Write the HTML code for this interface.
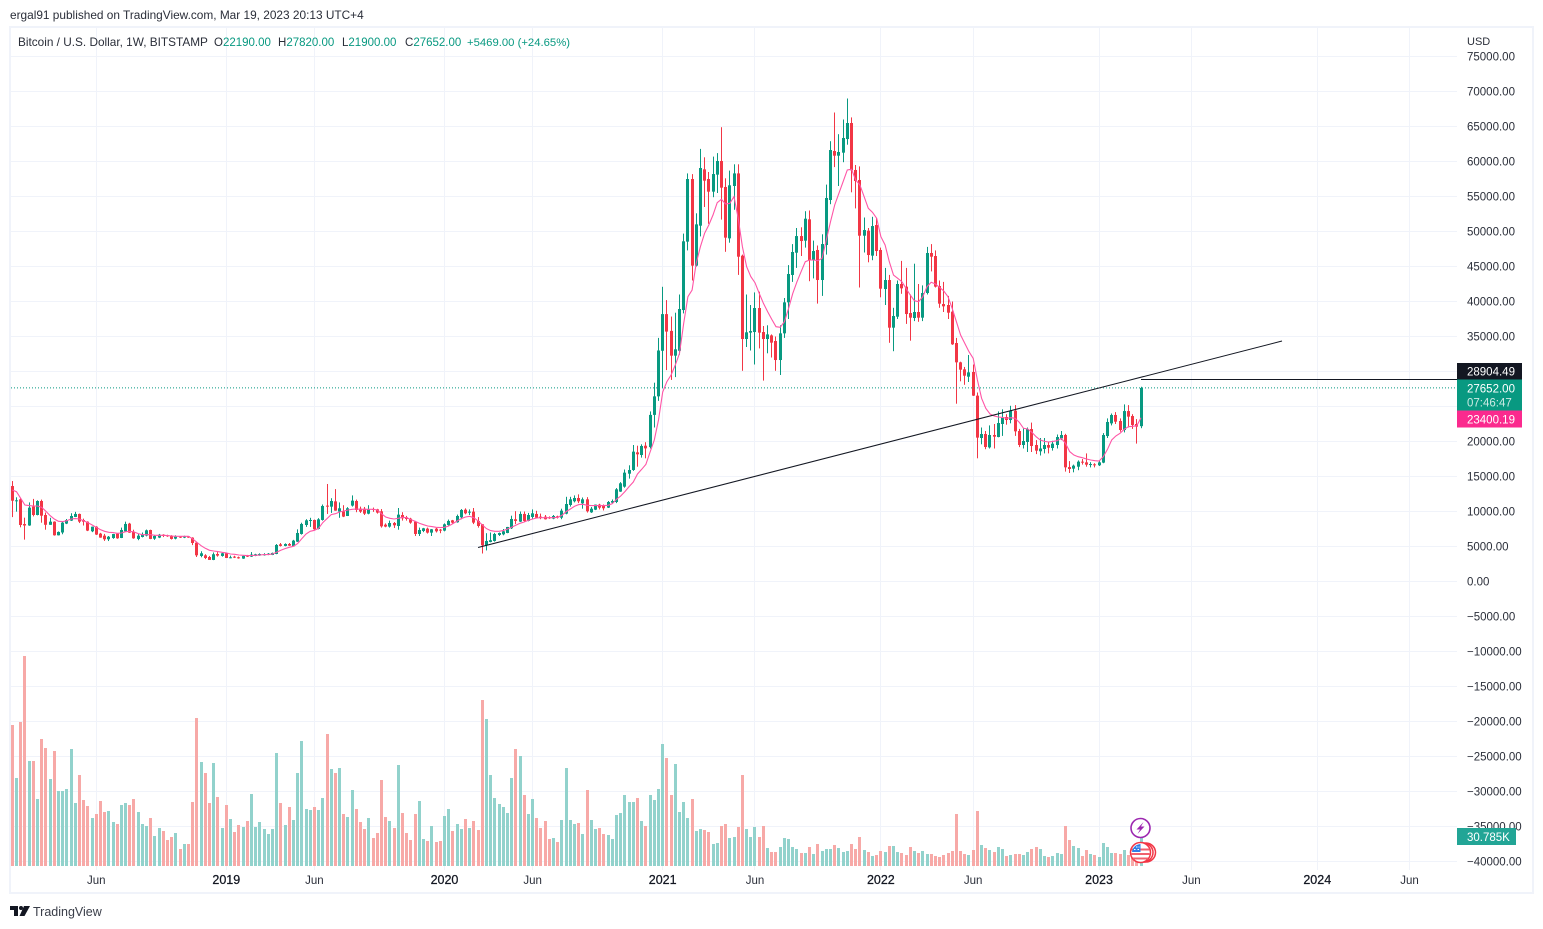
<!DOCTYPE html>
<html lang="en">
<head>
<meta charset="utf-8">
<title>Bitcoin / U.S. Dollar weekly chart</title>
<style>
html,body{margin:0;padding:0;background:#fff;width:1543px;height:929px;overflow:hidden}
svg{display:block;font-family:"Liberation Sans",sans-serif}
text{white-space:pre}
</style>
</head>
<body>
<svg id="chart" xmlns="http://www.w3.org/2000/svg" width="1543" height="929" viewBox="0 0 1543 929">
  <rect x="0" y="0" width="1543" height="929" fill="#ffffff"/>
  <text x="10" y="19" font-size="11.85" fill="#2a2e39">ergal91 published on TradingView.com, Mar 19, 2023 20:13 UTC+4</text>
  <rect x="10" y="27" width="1523" height="866" fill="none" stroke="#f0f3fa" stroke-width="2"/>
  <g id="grid"></g>
  <g id="volumeLayer"></g>
  <g id="candleLayer"></g>
  <path id="maLine" fill="none" stroke="#ff55a6" stroke-width="1.1"/>
  <line id="priceLine" stroke="#089981" stroke-width="1" stroke-dasharray="1 2"/>
  <line id="trendLine" stroke="#131722" stroke-width="1"/>
  <line id="horizLine" stroke="#131722" stroke-width="1" shape-rendering="crispEdges"/>
  <g id="priceAxis" font-size="11.5" fill="#2a2e39"></g>
  <g id="timeAxis" font-size="11.5"></g>

  <g font-size="11.5">
    <text x="18" y="46" font-size="11.8" fill="#2a2e39">Bitcoin / U.S. Dollar, 1W, BITSTAMP</text>
    <text x="214" y="46" fill="#2a2e39">O<tspan fill="#089981">22190.00</tspan></text>
    <text x="278" y="46" fill="#2a2e39">H<tspan fill="#089981">27820.00</tspan></text>
    <text x="342" y="46" fill="#2a2e39">L<tspan fill="#089981">21900.00</tspan></text>
    <text x="405" y="46" fill="#2a2e39">C<tspan fill="#089981">27652.00</tspan></text>
    <text x="467" y="46" font-size="11.3" fill="#089981">+5469.00 (+24.65%)</text>
  </g>

  <text x="1467" y="45" font-size="11" fill="#2a2e39">USD</text>

  <g>
    <rect x="1457" y="363" width="65" height="16.5" fill="#131722"/>
    <text x="1467" y="375.5" font-size="11.5" fill="#ffffff">28904.49</text>
  </g>
  <g>
    <rect x="1457" y="379.5" width="65" height="31" fill="#089981"/>
    <text x="1467" y="392.5" font-size="11.5" fill="#ffffff">27652.00</text>
    <text x="1467" y="406.5" font-size="11.5" fill="#cdeae4">07:46:47</text>
  </g>
  <g>
    <rect x="1457" y="410.5" width="65" height="17" fill="#fb2a8e"/>
    <text x="1467" y="423.5" font-size="11.5" fill="#ffffff">23400.19</text>
  </g>
  <g>
    <rect x="1457" y="828" width="59" height="17" fill="#22a596"/>
    <text x="1467" y="841" font-size="11.5" fill="#ffffff">30.785K</text>
  </g>

  <g>
    <circle cx="1140.5" cy="828" r="9.5" fill="#ffffff" stroke="#9c27b0" stroke-width="1.6"/>
    <path d="M1143.5 822 L1136.5 829.5 L1140 829.5 L1137.5 834 L1144.5 826.5 L1141 826.5 Z" fill="#9c27b0"/>
  </g>
  <g>
    <circle cx="1146" cy="852.5" r="9.5" fill="#ffffff" stroke="#f23645" stroke-width="1.5"/>
    <circle cx="1143.5" cy="852.5" r="9.5" fill="#ffffff" stroke="#f23645" stroke-width="1.5"/>
    <circle cx="1140.5" cy="852.5" r="10" fill="#ffffff" stroke="#f23645" stroke-width="1.5"/>
    <path d="M1131.5 848.5 H1149.5 V850.5 H1131.5 Z M1131.5 853 H1149.5 V855 H1131.5 Z M1133 857.5 H1148 V859.5 H1133 Z" fill="#f0616d"/>
    <path d="M1132 852 A9 9 0 0 1 1140.5 844 V852 Z" fill="#2f7fe8"/>
    <path d="M1134 849 h1.5 v1 h-1.5 Z M1137.5 849 h1.5 v1 h-1.5 Z M1136 846.5 h1.5 v1 h-1.5 Z M1138.5 846.5 h1 v1 h-1 Z" fill="#ffffff"/>
  </g>

  <g>
    <path d="M10 906 H18 V916 H14 V910 H10 Z M24 906 H30 L24.5 916 H19.5 Z" fill="#131722"/>
    <circle cx="21" cy="908" r="2" fill="#131722"/>
    <text x="33" y="916" font-size="12.5" fill="#3a3e49">TradingView</text>
  </g>
</svg>
<script>
const opens = [
13640,11500,11740,8210,8000,10700,9500,11500,9500,8100,
8550,6600,7000,8270,8700,9220,9650,8780,8550,7170,
7830,6840,6550,6030,6210,6830,6220,7170,8270,7120,
6080,6360,6550,7360,6120,6270,6690,6600,6550,6120,
6410,6270,6460,6270,5550,3650,3740,3500,3080,3930,
3650,4030,3360,3550,3460,3270,3700,3550,3650,3700,
3790,3790,3790,3930,5310,5080,5360,5030,5690,6790,
8070,8650,8790,7500,8790,10840,10690,11450,9980,10000,
9360,10840,11500,10410,10400,9690,10360,10310,10030,8120,
7840,8360,7930,9500,9170,8980,8550,6790,7220,7550,
6980,7550,7410,7270,8070,8740,8460,9170,10260,9880,
9980,8650,8170,5170,5650,5790,6650,6740,6930,7600,
8890,8550,9650,8650,9220,9650,9260,9260,9170,8980,
9310,9120,9690,10930,11460,11930,11170,11740,9880,10260,
10980,10840,10550,11260,11360,12840,13550,15400,15930,18450,
18070,19400,19200,23800,26450,32960,38200,35800,32260,32960,
38780,48550,57500,45120,50830,58880,57500,55690,58120,60070,
56360,49020,56500,58300,46550,34640,35550,35640,39070,35640,
34640,35160,34360,31640,35450,39880,43790,46970,49350,48690,
51740,45930,47360,43070,48070,54500,61500,60830,61260,63210,
65500,58790,57360,49400,50120,46550,50930,47360,41780,43070,
36260,37830,42500,42120,38360,37640,38500,37690,41210,46930,
46500,42210,39640,39500,38550,34070,31310,30310,29260,29930,
26550,20500,21070,19160,20930,20640,22500,23500,23070,24400,
21500,19500,19930,21780,19500,18600,18930,19500,19070,19500,
20450,20930,16350,16120,16400,17120,17020,16640,16740,16600,
16980,20780,22590,23790,22930,21640,24350,23640,22500,22190];
const highs = [
14350,12030,11900,9120,11300,11800,11600,11700,9850,9100,
8600,7150,8500,8930,9750,9950,9700,8980,8600,7850,
7900,6950,6800,6500,6800,6900,7700,8550,8380,7400,
6800,7000,7420,7400,6620,6800,6750,6680,6620,6600,
6480,6540,6500,6320,5620,4320,3900,3650,4150,4200,
4120,4080,3700,3680,3560,3700,3800,4200,3960,4020,
4040,4060,4130,5350,5500,5450,5500,5950,7450,8400,
8900,9100,8850,9050,11000,13930,11900,13200,11300,10900,
10620,12300,11700,10700,10650,10900,10560,10380,10350,8300,
8700,8500,10500,9900,9370,9100,8650,7700,7660,7700,
7500,7650,7500,8300,8850,8800,9560,10350,10450,10300,
10500,9200,8200,6900,7000,6950,7000,7500,7800,9400,
10050,10000,10000,9800,10300,10100,9700,9500,9300,9500,
9400,10400,12100,12100,12300,12450,12000,12050,10650,11000,
11100,11000,11500,11720,13350,14200,16000,16600,19500,19400,
19600,19900,24300,28400,34800,42100,40200,37850,38400,41000,
49700,58300,58200,52600,61800,60600,58500,60700,61200,64900,
57600,58700,59600,59600,46700,41000,39500,41300,41400,36500,
36600,35300,35000,36600,40500,45200,48200,50500,50600,52900,
53000,48700,48000,49600,56700,62900,67000,63900,66000,69000,
66300,59500,59300,52000,50500,52100,51900,47700,44800,43800,
39100,43000,45800,44800,41000,45400,42500,42300,47800,48200,
47300,43000,42800,40800,40000,34800,31400,30650,32360,31000,
27000,22000,21500,22300,22500,24300,24600,23900,25100,25200,
21800,21900,22000,22700,20200,20500,20500,20000,20100,21000,
21500,21100,17200,16700,17300,17500,18300,17050,16900,17300,
21200,23300,24000,24200,23300,25300,25200,23900,23200,27820];
const lows = [
9200,9980,7740,5980,7950,9300,9450,8400,7400,8100,
6550,6580,6750,8200,8650,9200,8350,8000,7200,7050,
6650,6250,5800,5780,6100,6100,6200,7100,6950,6100,
5900,6300,6450,6050,5950,6200,6350,6380,6000,6020,
6220,6200,6240,5200,3500,3460,3200,3100,3050,3550,
3550,3350,3320,3350,3260,3230,3500,3500,3620,3680,
3700,3770,3770,3900,5000,5030,5090,5000,5650,6700,
7800,7800,7400,7450,8700,9650,9800,10100,9100,9200,
9350,10700,9900,9800,9500,9600,9950,9700,7700,7750,
7700,7650,7400,8700,8700,8250,6500,6500,7050,6850,
6500,7000,6900,7170,8000,8230,8400,8900,9600,9500,
8200,7700,4000,4440,5600,5700,6500,6600,6900,7500,
8200,8500,8550,8600,9000,9000,8900,8850,8950,8900,
9000,8900,9600,10700,11300,11200,10400,9850,9800,10200,
10300,10150,10500,11150,11200,12800,13400,14700,15800,16400,
17700,17600,19000,22000,25800,27700,30200,28800,29200,32400,
38300,47300,43000,45000,49300,53500,51100,54900,55500,51700,
47100,48400,53100,43800,30100,33500,33000,31000,33300,28700,
32600,32000,30100,29500,34800,37500,42800,44800,46500,47700,
42900,43300,39700,40800,46700,53900,59200,56500,59900,62400,
55600,53300,42000,47000,45600,45900,46500,40600,39500,34100,
32900,37500,41100,36800,34400,37200,37100,37200,41000,44300,
42000,39100,38500,37500,33800,25400,28600,28100,28500,26500,
17600,19600,18900,19000,19000,20600,20800,22400,22600,20800,
19200,19000,18500,18500,18200,18000,18300,18300,18700,19000,
20200,15700,15500,15600,15900,16700,16400,16300,16300,16500,
16900,20500,22300,22500,21400,21300,22000,21800,19700,21900];
const closes = [
11540,11600,8070,8000,10550,9500,11500,9400,8100,8550,
6600,7080,8410,8780,9360,9650,8550,8550,7270,7830,
6700,6270,6030,6400,6780,6170,7360,8220,6980,6170,
6550,6740,7310,6080,6500,6690,6500,6460,6080,6410,
6270,6500,6270,5500,3740,4030,3360,3080,3890,3700,
4030,3360,3460,3410,3310,3650,3550,3840,3890,3930,
3890,3980,4080,5220,5080,5360,5120,5840,6930,8220,
8740,8790,7460,8880,10790,10690,11500,10120,10460,9270,
10460,11550,10220,9980,9690,10310,10220,9840,7880,7840,
8360,8030,9550,9030,8930,8410,6790,7360,7600,6980,
7460,7170,7270,8170,8650,8410,9360,10220,9740,9980,
8410,7930,5170,5790,5900,6790,6930,7170,7790,8930,
8650,9650,8650,9500,9740,9120,9120,8890,9070,9360,
9120,10120,11070,11740,11930,11460,11740,10030,10400,10980,
10550,10460,11360,11500,13170,14030,15550,15930,18550,18170,
19360,19020,23800,26450,33000,38200,35700,32260,33170,38930,
48600,57500,45120,51020,59070,57260,55690,58210,60070,56260,
49120,56600,58300,46400,34640,35600,35780,39070,35550,34640,
35300,34120,31640,35450,39880,43930,47070,49350,48640,51830,
45930,47210,43070,48210,54790,61640,60830,61360,63360,65500,
58740,57210,49400,50210,46640,50780,47210,41830,43070,36260,
37930,42500,41880,38210,37690,38500,37690,41210,46930,46400,
42120,39690,39310,38400,33880,31310,30260,29400,29880,26550,
20550,21070,19210,20930,20690,22640,23360,23070,24400,21450,
19500,20070,21780,19360,18690,19000,19500,19120,19690,20640,
20930,16310,16070,16550,17120,16980,16690,16780,16600,17020,
20930,22790,23790,22830,21640,24350,23550,22360,22120,27652];
const volumesK = [
149.5,93.3,152.6,222.6,111.3,111.3,71.0,134.6,125.1,92.2,
121.9,79.5,79.5,81.6,124.0,66.8,96.5,70.0,63.6,50.9,
55.1,68.9,57.2,58.3,46.6,44.5,64.7,66.8,64.7,71.0,
57.2,44.5,42.4,50.9,31.8,40.3,37.1,27.6,30.7,35.0,
18.0,23.3,23.3,67.8,156.9,110.2,98.6,66.8,109.2,73.1,
40.3,64.7,49.8,36.0,43.5,41.3,47.7,76.3,41.3,46.6,
39.2,33.9,39.2,119.8,66.8,43.5,62.5,48.8,98.6,132.5,
60.4,59.4,62.5,59.4,72.1,139.9,102.8,98.6,103.9,55.1,
51.9,80.6,60.4,46.6,39.2,50.9,29.7,35.0,91.2,51.9,
47.7,40.3,107.1,56.2,35.0,27.6,55.1,68.9,28.6,26.5,
42.4,25.4,26.5,53.0,60.4,37.1,44.5,39.2,49.8,40.3,
47.7,38.2,176.0,155.8,96.5,72.1,65.7,62.5,56.2,93.3,
124.0,116.6,75.3,55.1,71.0,50.9,40.3,47.7,28.6,29.7,
25.4,48.8,103.9,48.8,44.5,45.6,33.9,80.6,48.8,39.2,
40.3,33.9,32.9,28.6,54.1,56.2,75.3,67.8,67.8,72.1,
47.7,42.4,75.3,70.0,81.6,129.3,114.5,75.3,108.1,57.2,
67.8,50.9,71.0,37.1,39.2,38.2,36.0,23.3,24.4,42.4,
44.5,29.7,30.7,41.3,96.5,39.2,30.7,41.3,30.7,42.4,
19.1,14.8,14.8,20.1,29.7,28.6,20.1,18.0,13.8,13.8,
20.1,12.7,23.3,15.9,18.0,18.0,22.3,19.1,14.8,15.9,
23.3,18.0,30.7,17.0,14.8,10.6,11.7,15.9,14.8,21.2,
21.2,14.8,13.8,11.7,20.1,15.9,13.8,15.9,12.7,12.7,
10.6,9.5,11.7,13.8,15.9,55.1,15.9,12.7,11.7,17.0,
58.3,22.3,19.1,17.0,14.8,20.1,18.0,10.6,11.7,12.7,
12.7,11.7,14.8,18.0,20.1,18.0,10.6,9.5,10.6,13.8,
12.7,42.4,27.6,21.2,19.1,10.6,17.0,12.7,11.7,9.5,
24.4,20.1,13.8,13.8,12.7,17.0,11.7,12.7,12.7,30.785];
const maValues = [
13070,12835,11880,10930,10840,10790,10790,10600,10030,9410,
8930,8600,8550,8690,8930,8980,8930,8690,8410,8080,
7740,7410,7170,7030,6980,6890,6930,7120,7170,7080,
6840,6690,6690,6690,6600,6600,6600,6550,6500,6460,
6460,6460,6460,6080,5600,5120,4740,4460,4360,4270,
4170,4080,3930,3890,3790,3740,3700,3700,3740,3790,
3840,3840,3930,4170,4460,4700,4890,5030,5410,6120,
6790,7170,7310,7600,8410,8980,9550,9690,9930,10075,
10220,10310,10360,10310,10310,10310,10310,10220,9690,9220,
9030,8930,9030,9170,9120,8840,8600,8310,8120,7930,
7840,7740,7700,7740,7930,8270,8650,8980,9220,9310,
9120,8650,8080,7550,7270,7170,7170,7270,7500,7740,
8030,8310,8500,8740,8930,9070,9120,9120,9120,9120,
9170,9460,9980,10360,10740,10980,11030,10890,10840,10840,
10840,10840,10890,11120,11740,12220,12840,13550,14220,15360,
16030,16740,18500,20210,23070,27070,28550,29500,30930,32590,
36880,40690,41640,45450,47830,49740,50930,52360,54120,54600,
53930,54020,54980,51880,47830,44980,43550,42690,41170,39740,
38550,37450,36400,36310,37120,39020,41170,42830,44260,45690,
45930,45930,45830,46170,48780,51400,53780,55450,57120,58790,
58880,57360,56640,54980,53310,52740,51880,49260,48070,45690,
43780,43310,42830,41880,40930,40120,39970,40690,42120,42740,
42500,42020,41500,40690,39020,37120,35210,34020,32830,31880,
28790,26170,24740,23930,23640,23500,23450,23310,23400,23310,
22740,21880,21790,21310,20690,20210,20020,19930,20020,20120,
20450,19740,18550,18070,17830,17690,17500,17360,17260,17210,
17830,18880,20210,20790,21170,21740,22120,22170,22260,23400];
const priceTicks = [75000,70000,65000,60000,55000,50000,45000,40000,35000,30000,25000,20000,15000,10000,5000,0,-5000,-10000,-15000,-20000,-25000,-30000,-35000,-40000];
const timeTickWeeks = [20,51,72,103,124,155,177,207,229,259,281,311,333];
const timeTickLabels = ["Jun","2019","Jun","2020","Jun","2021","Jun","2022","Jun","2023","Jun","2024","Jun"];
const lastPrice = [27652];
const trendWeeks = [111,302.6];
const trendPrices = [4857,34357];
const horizontalLevel = [28904.49];
const horizontalStartWeek = [269];

const SVGNS = 'http://www.w3.org/2000/svg';
const xAxis = w => 12.3 + 4.196 * w;
const yPrice = p => 581.5 - 0.007 * p;
const yVolume = v => 866 - v * (29 / 30.785);
const upColor = '#089981', downColor = '#f23645';
const upVolume = '#92d2cc', downVolume = '#f7a9a7';
const plotRight = 1457;

function make(tag, parent){
  const el = document.createElementNS(SVGNS, tag);
  parent.appendChild(el);
  return el;
}
function setAll(el, attrs){
  for (const k in attrs) el.setAttribute(k, attrs[k]);
}

const grid = document.getElementById('grid');
priceTicks.forEach(p => {
  const line = make('rect', grid);
  
  
  setAll(line, {x: 11, y: Math.floor(yPrice(p)), width: plotRight - 11, height: 1, fill: '#f0f3fa'});
});
timeTickWeeks.forEach(w => {
  const line = make('rect', grid);
  
  
  setAll(line, {x: Math.round(xAxis(w) - 0.5), y: 28, width: 1, height: 842, fill: '#f0f3fa'});
});

const volumeLayer = document.getElementById('volumeLayer');
volumesK.forEach((v, i) => {
  const bar = make('rect', volumeLayer);
  
  
  const top = Math.round(yVolume(v));
  setAll(bar, {x: Math.round(xAxis(i) - 1.5), y: top, width: 3, height: Math.max(1, 866 - top),
    fill: closes[i] >= opens[i] ? upVolume : downVolume});
});

const candleLayer = document.getElementById('candleLayer');
opens.forEach((o, i) => {
  const c = closes[i];
  const color = c >= o ? upColor : downColor;
  const x = xAxis(i);
  const wick = make('rect', candleLayer);
  
  
  const wy = yPrice(highs[i]);
  setAll(wick, {x: Math.round(x - 0.5), y: wy, width: 1, height: yPrice(lows[i]) - wy, fill: color});
  const body = make('rect', candleLayer);
  
  
  const by = yPrice(Math.max(o, c));
  setAll(body, {x: Math.round(x - 1.5), y: by, width: 3, height: Math.max(1, yPrice(Math.min(o, c)) - by), fill: color});
});

document.getElementById('maLine').setAttribute('d',
  maValues.map((m, i) => (i ? 'L' : 'M') + xAxis(i).toFixed(1) + ' ' + yPrice(m).toFixed(1)).join(' '));

setAll(document.getElementById('priceLine'), {x1: 11, x2: plotRight, y1: yPrice(lastPrice[0]), y2: yPrice(lastPrice[0])});
setAll(document.getElementById('trendLine'), {x1: xAxis(trendWeeks[0]), y1: yPrice(trendPrices[0]), x2: xAxis(trendWeeks[1]), y2: yPrice(trendPrices[1])});
setAll(document.getElementById('horizLine'), {x1: xAxis(horizontalStartWeek[0]), x2: plotRight, y1: Math.floor(yPrice(horizontalLevel[0])) + 0.5, y2: Math.floor(yPrice(horizontalLevel[0])) + 0.5});

const priceAxis = document.getElementById('priceAxis');
priceTicks.forEach(p => {
  const t = make('text', priceAxis);
  
  
  setAll(t, {x: 1467, y: yPrice(p) + 4});
  t.textContent = (p < 0 ? '\u2212' + Math.abs(p) : String(p)) + '.00';
});

const timeAxis = document.getElementById('timeAxis');
timeTickWeeks.forEach((w, i) => {
  const t = make('text', timeAxis);
  
  
  const isYear = /^\d/.test(timeTickLabels[i]);
  setAll(t, {x: xAxis(w), y: 884, 'text-anchor': 'middle', fill: isYear ? '#131722' : '#2a2e39', 'font-size': isYear ? '12.5' : '11.5', stroke: isYear ? '#131722' : 'none', 'stroke-width': isYear ? '0.25' : '0'});
  t.textContent = timeTickLabels[i];
});
</script>
</body>
</html>
